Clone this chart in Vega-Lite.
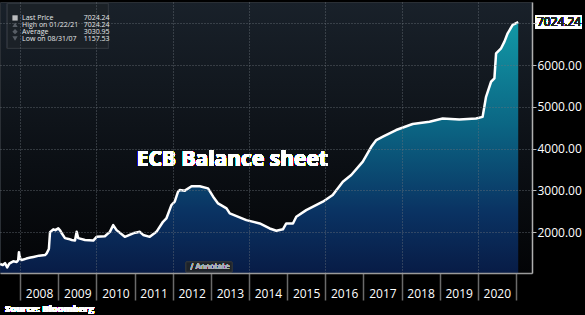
{
  "$schema": "https://vega.github.io/schema/vega-lite/v6.json",
  "autosize": {"type": "none"},
  "width": 532,
  "height": 271,
  "padding": {"left": 0, "top": 2, "right": 53, "bottom": 42},
  "background": "#000000",
  "view": {
    "stroke": "#2a2f35",
    "fill": {"gradient": "linear", "x1": 0, "y1": 0, "x2": 0, "y2": 1,
      "stops": [{"offset": 0, "color": "#19212a"}, {"offset": 0.6, "color": "#0b0f14"}, {"offset": 1, "color": "#030406"}]}
  },
  "datasets": {
    "ecb": [
      {"date": "2007-06-25", "value": 1240},
      {"date": "2007-07-20", "value": 1215},
      {"date": "2007-08-10", "value": 1260},
      {"date": "2007-08-31", "value": 1158},
      {"date": "2007-09-20", "value": 1250},
      {"date": "2007-10-10", "value": 1280},
      {"date": "2007-10-28", "value": 1305},
      {"date": "2007-11-30", "value": 1290},
      {"date": "2007-12-14", "value": 1330},
      {"date": "2007-12-21", "value": 1520},
      {"date": "2008-01-04", "value": 1360},
      {"date": "2008-01-17", "value": 1335},
      {"date": "2008-03-01", "value": 1370},
      {"date": "2008-04-10", "value": 1395},
      {"date": "2008-05-08", "value": 1410},
      {"date": "2008-07-01", "value": 1440},
      {"date": "2008-08-27", "value": 1455},
      {"date": "2008-09-12", "value": 1495},
      {"date": "2008-10-03", "value": 1600},
      {"date": "2008-10-14", "value": 2000},
      {"date": "2008-11-14", "value": 2070},
      {"date": "2008-12-05", "value": 2050},
      {"date": "2009-01-01", "value": 2093},
      {"date": "2009-01-20", "value": 2040},
      {"date": "2009-02-03", "value": 1975},
      {"date": "2009-03-06", "value": 1860},
      {"date": "2009-04-10", "value": 1840},
      {"date": "2009-05-10", "value": 1815},
      {"date": "2009-06-10", "value": 1800},
      {"date": "2009-06-26", "value": 2010},
      {"date": "2009-07-11", "value": 1860},
      {"date": "2009-09-14", "value": 1815},
      {"date": "2009-12-02", "value": 1800},
      {"date": "2010-01-03", "value": 1890},
      {"date": "2010-03-23", "value": 1905},
      {"date": "2010-05-10", "value": 2010},
      {"date": "2010-06-11", "value": 2170},
      {"date": "2010-07-13", "value": 2050},
      {"date": "2010-09-30", "value": 1890},
      {"date": "2010-12-19", "value": 1975},
      {"date": "2011-01-10", "value": 1990},
      {"date": "2011-02-21", "value": 2010},
      {"date": "2011-03-25", "value": 1935},
      {"date": "2011-05-27", "value": 1890},
      {"date": "2011-07-30", "value": 2010},
      {"date": "2011-10-01", "value": 2250},
      {"date": "2011-11-02", "value": 2330},
      {"date": "2011-12-20", "value": 2650},
      {"date": "2012-01-21", "value": 2730},
      {"date": "2012-02-22", "value": 2970},
      {"date": "2012-03-09", "value": 3010},
      {"date": "2012-04-27", "value": 2995},
      {"date": "2012-06-30", "value": 3100},
      {"date": "2012-09-17", "value": 3100},
      {"date": "2012-12-05", "value": 3050},
      {"date": "2013-01-23", "value": 2850},
      {"date": "2013-03-11", "value": 2690},
      {"date": "2013-05-31", "value": 2570},
      {"date": "2013-07-01", "value": 2450},
      {"date": "2013-12-07", "value": 2290},
      {"date": "2014-04-14", "value": 2210},
      {"date": "2014-07-18", "value": 2090},
      {"date": "2014-09-20", "value": 2035},
      {"date": "2014-11-22", "value": 2070},
      {"date": "2014-12-24", "value": 2210},
      {"date": "2015-02-26", "value": 2210},
      {"date": "2015-03-30", "value": 2370},
      {"date": "2015-07-03", "value": 2530},
      {"date": "2015-12-09", "value": 2730},
      {"date": "2016-03-13", "value": 2890},
      {"date": "2016-06-18", "value": 3210},
      {"date": "2016-09-06", "value": 3370},
      {"date": "2016-12-26", "value": 3690},
      {"date": "2017-03-17", "value": 4045},
      {"date": "2017-05-04", "value": 4205},
      {"date": "2017-07-06", "value": 4285},
      {"date": "2017-11-10", "value": 4445},
      {"date": "2018-04-17", "value": 4590},
      {"date": "2018-09-25", "value": 4645},
      {"date": "2019-01-30", "value": 4720},
      {"date": "2019-07-08", "value": 4700},
      {"date": "2019-12-15", "value": 4720},
      {"date": "2020-02-16", "value": 4760},
      {"date": "2020-03-20", "value": 5240},
      {"date": "2020-05-07", "value": 5600},
      {"date": "2020-06-08", "value": 5680},
      {"date": "2020-06-24", "value": 6280},
      {"date": "2020-08-11", "value": 6400},
      {"date": "2020-09-12", "value": 6560},
      {"date": "2020-10-13", "value": 6760},
      {"date": "2020-11-30", "value": 6960},
      {"date": "2021-01-22", "value": 7024.24}
    ],
    "stats": [
      {"label": "Last Price", "val": "7024.24"},
      {"label": "High on 01/22/21", "val": "7024.24"},
      {"label": "Average", "val": "3030.95"},
      {"label": "Low on 08/31/07", "val": "1157.53"}
    ]
  },
  "layer": [
    {
      "data": {"name": "ecb"},
      "layer": [
        {
          "mark": {"type": "area", "line": false, "clip": true,
            "fill": {"gradient": "linear", "x1": 0, "y1": 0, "x2": 0, "y2": 1,
              "stops": [{"offset": 0, "color": "#1298a6"}, {"offset": 0.35, "color": "#0b6684"}, {"offset": 0.65, "color": "#0a3262"}, {"offset": 1, "color": "#060c32"}]}},
          "encoding": {
            "x": {"field": "date", "type": "temporal",
              "scale": {"domain": ["2007-06-23", "2021-06-03"]},
              "axis": {
                "orient": "bottom", "title": null, "zindex": 1, "labelOverlap": false,
                "values": ["2008-01-01", "2009-01-01", "2010-01-01", "2011-01-01", "2012-01-01", "2013-01-01", "2014-01-01", "2015-01-01", "2016-01-01", "2017-01-01", "2018-01-01", "2019-01-01", "2020-01-01", "2021-01-01"],
                "labelExpr": "year(datum.value) < 2021 ? timeFormat(datum.value, '%Y') : ''",
                "labelOffset": 19, "labelAlign": "center", "labelBaseline": "top", "labelPadding": -12,
                "labelFont": "Open Sans", "labelFontSize": 12, "labelColor": "#ffffff",
                "tickSize": 27, "tickColor": "#6a6a6a", "tickWidth": 1.5,
                "domainColor": "#9a9a9a", "domainWidth": 1.5,
                "grid": true, "gridColor": "#6c747c", "gridDash": [1, 2], "gridWidth": 1,
                "gridOpacity": {"condition": {"test": "year(datum.value) % 2 == 0 && year(datum.value) < 2021", "value": 0.8}, "value": 0}
              }
            },
            "y": {"field": "value", "type": "quantitative",
              "scale": {"domain": [1025, 7508], "nice": false, "zero": false},
              "axis": {
                "orient": "right", "title": null, "zindex": 1, "labelOverlap": false,
                "values": [2000, 3000, 4000, 5000, 6000, 7000],
                "labelExpr": "datum.value < 7000 ? format(datum.value, '.2f') : ''",
                "labelFont": "Open Sans", "labelFontSize": 12, "labelColor": "#ffffff", "labelPadding": 1,
                "tickSize": 4, "tickColor": "#bbbbbb",
                "domainColor": "#b0b0b0", "domainWidth": 1.5,
                "grid": true, "gridColor": "#6c747c", "gridDash": [1, 2], "gridWidth": 1, "gridOpacity": 0.8
              }
            }
          }
        },
        {
          "mark": {"type": "line", "color": "#ffffff", "strokeWidth": 2.5, "strokeJoin": "round"},
          "encoding": {
            "x": {"field": "date", "type": "temporal"},
            "y": {"field": "value", "type": "quantitative"}
          }
        },
        {
          "mark": {"type": "text", "text": "ECB Balance sheet", "font": "Open Sans", "fontSize": 21, "fontWeight": "bold", "color": "#ffffff", "align": "left", "baseline": "middle"},
          "encoding": {
            "x": {"datum": {"year": 2011, "month": 1, "date": 22}, "type": "temporal"},
            "y": {"datum": 3730, "type": "quantitative"}
          }
        },
        {
          "mark": {"type": "rect", "fill": "#1e2329", "stroke": "#2e343b", "cornerRadius": 1},
          "encoding": {
            "x": {"datum": {"year": 2012, "month": 5, "date": 8}, "type": "temporal"},
            "x2": {"datum": {"year": 2013, "month": 7, "date": 23}},
            "y": {"datum": 1290, "type": "quantitative"},
            "y2": {"datum": 1050}
          }
        },
        {
          "mark": {"type": "text", "text": "∕  Annotate", "font": "DejaVu Sans", "fontSize": 7.5, "color": "#a8adb5", "align": "left", "baseline": "middle"},
          "encoding": {
            "x": {"datum": {"year": 2012, "month": 6, "date": 20}, "type": "temporal"},
            "y": {"datum": 1170, "type": "quantitative"}
          }
        },
        {
          "mark": {"type": "rect", "fill": "#ffffff", "cornerRadius": 1},
          "encoding": {
            "x": {"datum": {"year": 2021, "month": 7, "date": 2}, "type": "temporal"},
            "x2": {"datum": {"year": 2022, "month": 9, "date": 24}},
            "y": {"datum": 7180, "type": "quantitative"},
            "y2": {"datum": 6870}
          }
        },
        {
          "mark": {"type": "text", "text": "7024.24", "font": "Open Sans", "fontSize": 12, "color": "#222222", "align": "left", "baseline": "middle"},
          "encoding": {
            "x": {"datum": {"year": 2021, "month": 7, "date": 20}, "type": "temporal"},
            "y": {"datum": 7024.24, "type": "quantitative"}
          }
        },
        {
          "mark": {"type": "text", "text": "Source: Bloomberg", "font": "Open Sans", "fontSize": 9.5, "fontWeight": "bold", "color": "#ffffff", "align": "left", "baseline": "middle"},
          "encoding": {
            "x": {"datum": {"year": 2007, "month": 8, "date": 10}, "type": "temporal"},
            "y": {"datum": 165, "type": "quantitative"}
          }
        },
        {
          "mark": {"type": "rect", "fill": "#1b2127", "stroke": "#30363d", "strokeWidth": 1},
          "encoding": {
            "x": {"datum": {"year": 2007, "month": 9, "date": 1}, "type": "temporal"},
            "x2": {"datum": {"year": 2010, "month": 4, "date": 25}},
            "y": {"datum": 7470, "type": "quantitative"},
            "y2": {"datum": 6400}
          }
        }
      ]
    },
    {
      "data": {"name": "stats"},
      "layer": [
        {
          "mark": {"type": "point", "filled": true, "size": 28},
          "encoding": {
            "x": {"datum": {"year": 2007, "month": 11, "date": 14}, "type": "temporal"},
            "y": {"field": "label", "type": "nominal", "sort": null,
              "scale": {"type": "point", "domain": ["Last Price", "High on 01/22/21", "Average", "Low on 08/31/07"], "range": [12.5, 40]},
              "axis": null},
            "shape": {"field": "label", "type": "nominal", "legend": null,
              "scale": {"domain": ["Last Price", "High on 01/22/21", "Average", "Low on 08/31/07"], "range": ["square", "triangle-up", "diamond", "triangle-down"]}},
            "color": {"field": "label", "type": "nominal", "legend": null,
              "scale": {"domain": ["Last Price", "High on 01/22/21", "Average", "Low on 08/31/07"], "range": ["#ffffff", "#707880", "#707880", "#707880"]}}
          }
        },
        {
          "mark": {"type": "text", "font": "Open Sans", "fontSize": 7, "color": "#e6e8ea", "align": "left", "baseline": "middle"},
          "encoding": {
            "x": {"datum": {"year": 2008, "month": 1, "date": 20}, "type": "temporal"},
            "y": {"field": "label", "type": "nominal", "sort": null, "axis": null},
            "text": {"field": "label"}
          }
        },
        {
          "mark": {"type": "text", "font": "Open Sans", "fontSize": 7, "color": "#e6e8ea", "align": "left", "baseline": "middle"},
          "encoding": {
            "x": {"datum": {"year": 2009, "month": 9, "date": 2}, "type": "temporal"},
            "y": {"field": "label", "type": "nominal", "sort": null, "axis": null},
            "text": {"field": "val"}
          }
        }
      ]
    }
  ],
  "resolve": {"scale": {"y": "independent", "color": "independent", "shape": "independent"}}
}
